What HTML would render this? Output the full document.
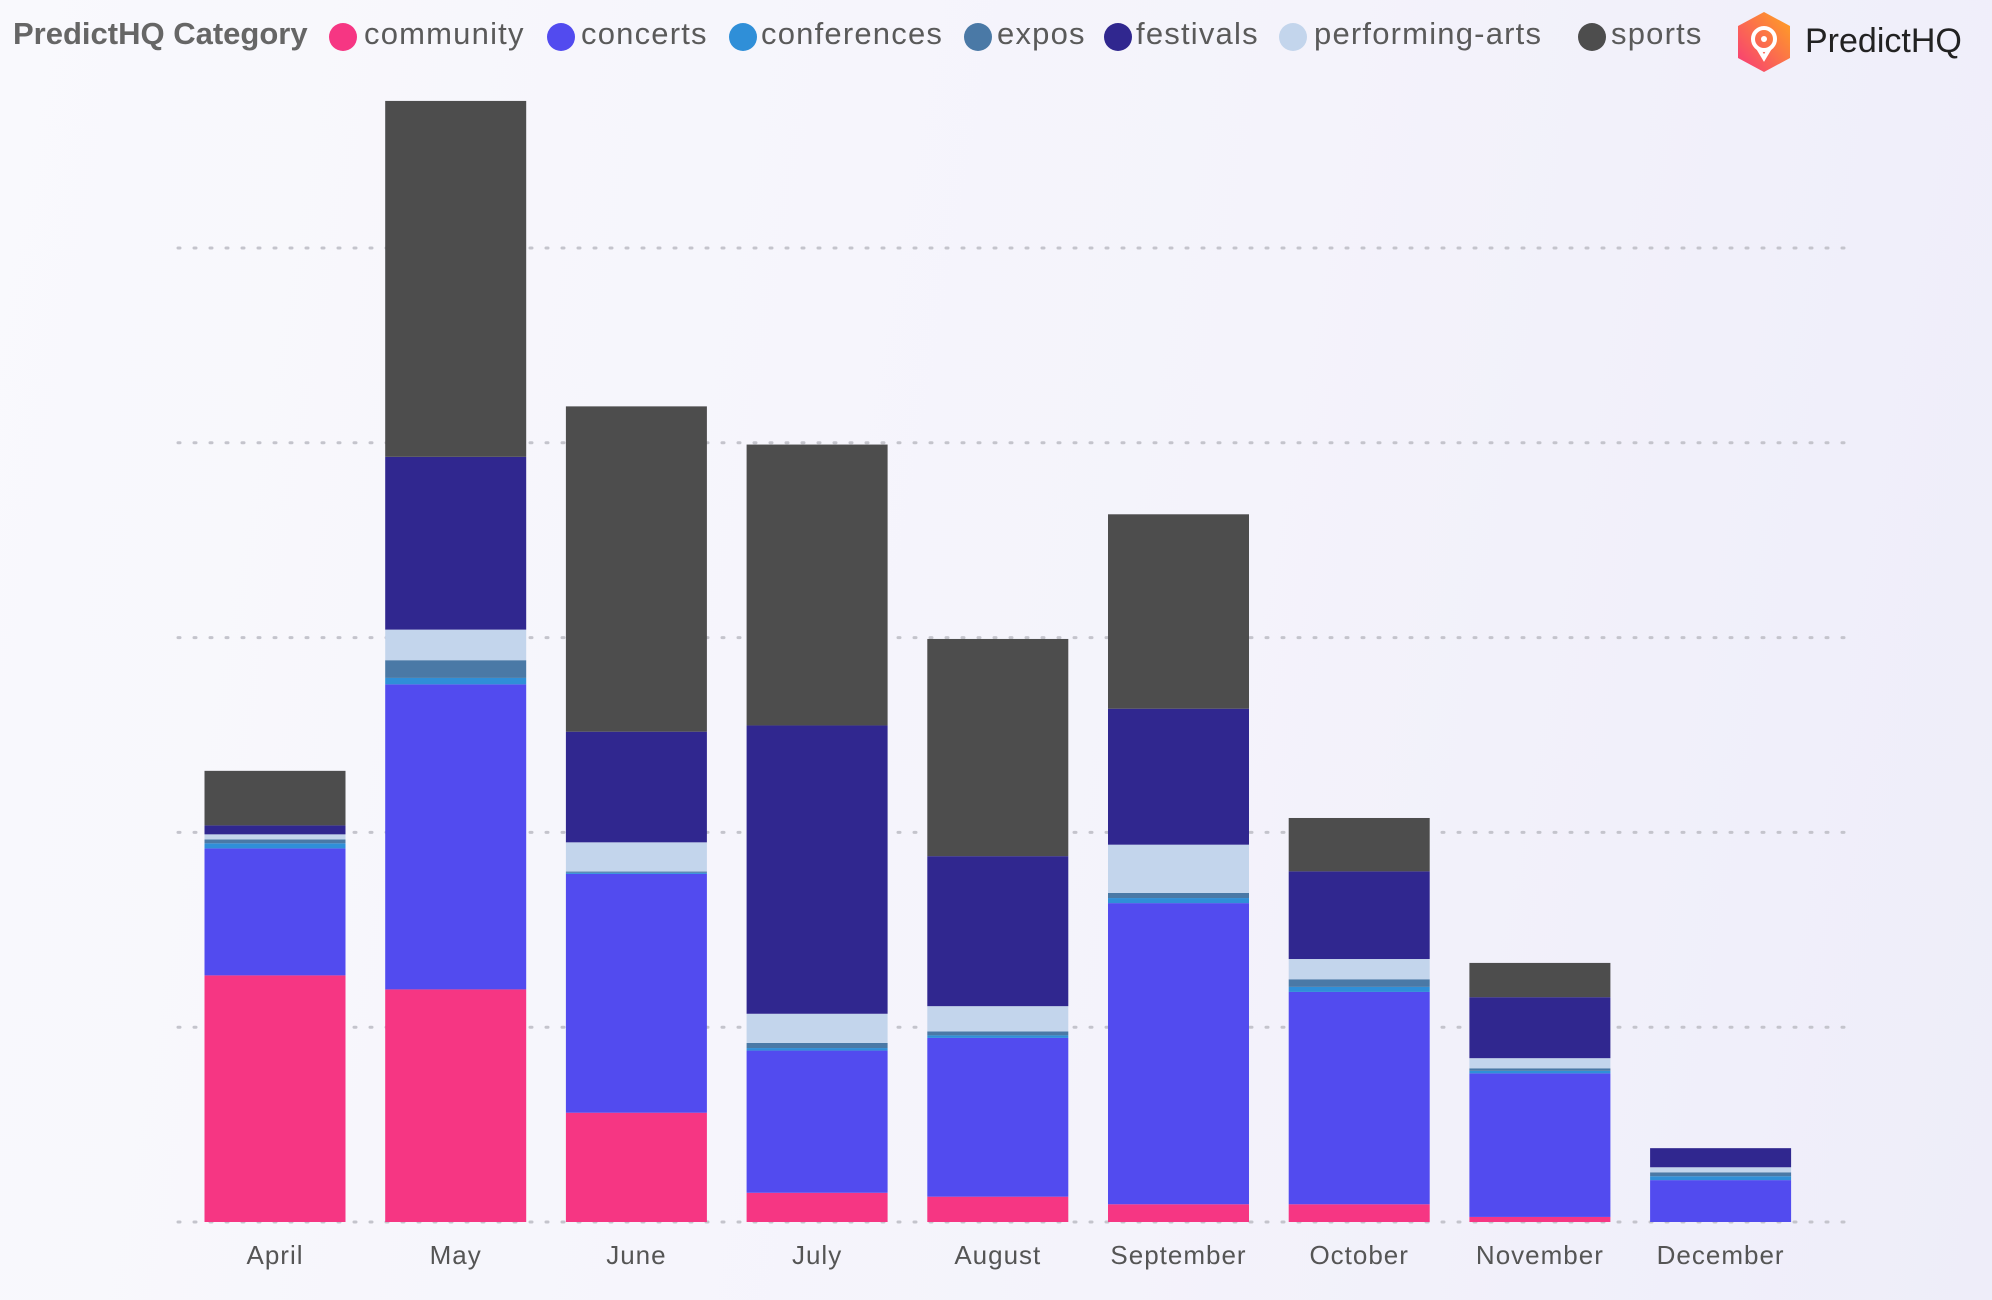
<!DOCTYPE html>
<html><head><meta charset="utf-8"><style>
html,body{margin:0;padding:0}
body{width:1992px;height:1300px;overflow:hidden;background:linear-gradient(100deg,#f9f9fd 0%,#f4f3fb 60%,#eeedf9 100%);font-family:"Liberation Sans",sans-serif;position:relative}
.leg{position:absolute;top:16px;font-size:31px;color:#5a5a5a;white-space:nowrap;letter-spacing:1.2px}
.dot{position:absolute;top:23px;width:28px;height:28px;border-radius:50%}
</style></head><body>
<div class="leg" style="left:13px;font-weight:bold;color:#666;letter-spacing:0">PredictHQ Category</div>
<div id="legend"></div>
<svg style="position:absolute;left:1736px;top:12px" width="56" height="60" viewBox="0 0 56 60">
<defs><linearGradient id="lg" x1="0" y1="1" x2="1" y2="0"><stop offset="0" stop-color="#f7387a"/><stop offset="1" stop-color="#ffa51f"/></linearGradient></defs>
<polygon points="28,0 54,14 54,46 28,60 2,46 2,14" fill="url(#lg)"/>
<circle cx="28" cy="27" r="11" fill="none" stroke="#fff" stroke-width="4"/><circle cx="28" cy="27" r="3" fill="#fff"/>
<path d="M22 36 L28 46 L34 36" fill="none" stroke="#fff" stroke-width="4"/></svg>
<div style="position:absolute;left:1805px;top:22px;font-size:34px;color:#222">PredictHQ</div>
<svg id="chart" width="1992" height="1300" style="position:absolute;left:0;top:0"></svg>
<script>
const months=["April","May","June","July","August","September","October","November","December"];
const seriesNames=["community","concerts","conferences","expos","performing-arts","festivals","sports"];
const community=[126.6,119.4,56.1,15,13,9.1,9.1,2.6,0];
const concerts=[65.2,156.6,122.6,73,81.5,154.6,109,73.7,21.5];
const conferences=[2.6,3.3,0.6,1.3,1.3,2.6,2.6,1.3,2];
const expos=[2,9.1,0.6,2.6,2,2.6,3.9,1.3,2];
const performingArts=[2.6,15.7,15,15,13,24.8,10.4,5.2,2.6];
const festivals=[4.6,88.7,56.8,148,77,69.8,45,31.3,9.8];
const sports=[28,182.7,167,144.2,111.5,99.8,27.4,17.6,0];
const gridTicks=[0,100,200,300,400,500];
const colors={"community":"#f63683","concerts":"#524bef","conferences":"#2f8fd8","expos":"#4a79a6","performing-arts":"#c3d5ec","festivals":"#30278f","sports":"#4d4d4d"};
const legendOrder=["community","concerts","conferences","expos","festivals","performing-arts","sports"];
const legendDotX=[329,547,729,964,1104,1279,1578];
const legendTextX=[364,581,761,997,1136,1314,1611];
const data=[community,concerts,conferences,expos,performingArts,festivals,sports];
const NS="http://www.w3.org/2000/svg";
const svg=document.getElementById('chart');
const baseY=1222, unitPx=1.948, x0=204.5, step=180.7, bw=141;
const y=v=>baseY-v*unitPx;
const x=i=>x0+i*step;
gridTicks.forEach(t=>{
  const l=document.createElementNS(NS,'line');
  
  
  l.setAttribute('x1',178);l.setAttribute('x2',1845);l.setAttribute('y1',y(t));l.setAttribute('y2',y(t));
  l.setAttribute('stroke','#c4c4cc');l.setAttribute('stroke-width',3);l.setAttribute('stroke-dasharray','2 14');l.setAttribute('stroke-linecap','round');
  svg.appendChild(l);
});
months.forEach((m,i)=>{
  let acc=0;
  data.forEach((s,k)=>{
    const v=s[i]; if(v<=0) return;
    const r=document.createElementNS(NS,'rect');
    
    
    r.setAttribute('x',x(i));r.setAttribute('width',bw);
    r.setAttribute('y',y(acc+v));r.setAttribute('height',v*unitPx);
    r.setAttribute('fill',colors[seriesNames[k]]);
    svg.appendChild(r);
    acc+=v;
  });
  const t=document.createElementNS(NS,'text');
  
  
  t.setAttribute('x',x(i)+bw/2);t.setAttribute('y',1264);t.setAttribute('text-anchor','middle');
  t.setAttribute('font-size',26);t.setAttribute('fill','#555');t.setAttribute('letter-spacing','1');
  t.setAttribute('font-family','Liberation Sans, sans-serif');
  t.textContent=m;svg.appendChild(t);
});
const leg=document.getElementById('legend');
legendOrder.forEach((n,i)=>{
  const d=document.createElement('div');
  d.className='dot';
  
  
  d.style.left=legendDotX[i]+'px';d.style.background=colors[n];
  leg.appendChild(d);
  const t=document.createElement('div');
  t.className='leg';
  
  
  t.style.left=legendTextX[i]+'px';t.textContent=n;
  leg.appendChild(t);
});
</script>
</body></html>
